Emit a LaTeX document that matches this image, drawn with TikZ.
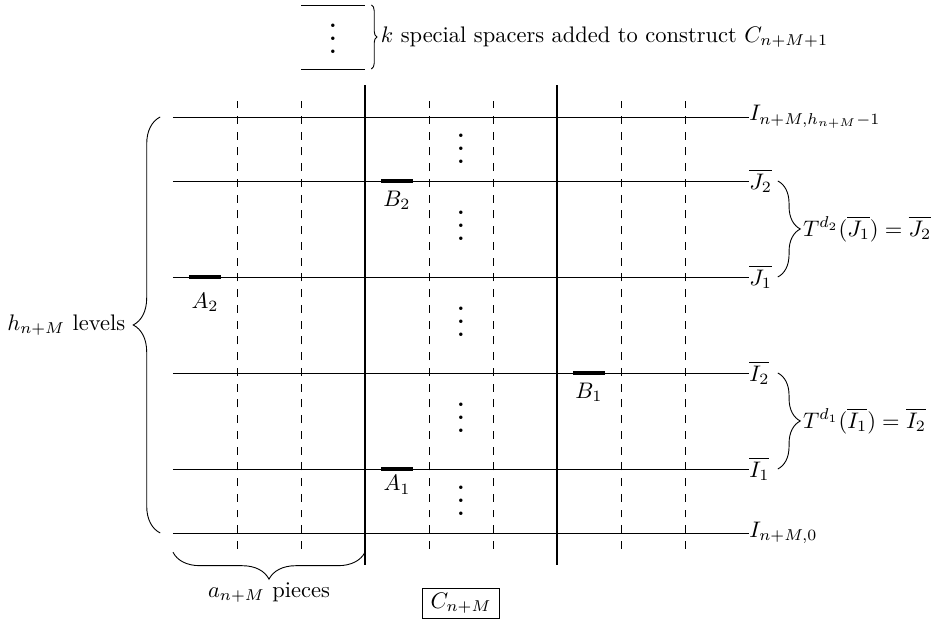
\documentclass[tikz,border=0pt]{standalone}
\usepackage{amsmath}
\usetikzlibrary{decorations.pathreplacing, positioning, calc}

\begin{document}
\begin{tikzpicture}[
    level/.style={thin},
    tower/.style={thick},
    piece/.style={thin, dash pattern=on 3.5pt off 3.5pt},
    interval/.style={ultra thick, line cap=butt},
    bigbrace/.style={decorate, decoration={brace, amplitude=12pt}},
    medbrace/.style={decorate, decoration={brace, amplitude=10pt}},
    smallbrace/.style={decorate, decoration={brace}},
    lvllabel/.style={anchor=west, inner sep=0pt},
    moredots/.style={scale=1.45, inner sep=0pt},
]
    \useasboundingbox (-2.703,-1.406) rectangle (11.875,8.328);

    % levels of the tower
    \foreach \y/\name in {0/lbot, 1/lione, 2.5/litwo, 4/ljone, 5.5/ljtwo, 6.5/ltop} {
        \coordinate (\name-w) at (0,\y);
        \coordinate (\name-e) at (9,\y);
        \draw[level] (\name-w) -- (\name-e);
    }

    % columns
    \foreach \x in {1,2,4,5,7,8}
        \draw[piece] (\x,-0.25) -- (\x,6.75);
    \foreach \x in {3,6}
        \draw[tower] (\x,-0.5) -- (\x,7);

    % spacers on top
    \coordinate (sp-a) at (2,8.25);
    \coordinate (sp-b) at (3,8.25);
    \coordinate (sp-c) at (2,7.25);
    \coordinate (sp-d) at (3,7.25);
    \draw[level] (sp-a) -- (sp-b);
    \draw[level] (sp-c) -- (sp-d);
    \node[moredots] (spdots) at (2.5,7.88) {$\vdots$};
    \draw[smallbrace] (3.1,8.25) -- (3.1,7.25)
        node[midway, right=4pt, inner sep=0pt] (spacers)
        {$k$ special spacers added to construct $C_{n+M+1}$};

    % dots between the levels
    \foreach \y [count=\i] in {6.15,4.95,3.46,1.95,0.65}
        \node[moredots] (dots\i) at (4.5,\y) {$\vdots$};

    % intervals
    \draw[interval] (0.25,4) -- (0.75,4);
    \node (A2) at (0.5,3.6) {$A_2$};
    \draw[interval] (3.25,5.5) -- (3.75,5.5);
    \node (B2) at (3.5,5.2) {$B_2$};
    \draw[interval] (3.25,1) -- (3.75,1);
    \node (A1) at (3.5,0.75) {$A_1$};
    \draw[interval] (6.25,2.5) -- (6.75,2.5);
    \node (B1) at (6.5,2.2) {$B_1$};

    % labels on the right
    \node[lvllabel] (Itop) at (ltop-e) {$I_{n+M,h_{n+M}-1}$};
    \node[lvllabel] (J2) at (ljtwo-e) {$\overline{J_2}$};
    \node[lvllabel] (J1) at (ljone-e) {$\overline{J_1}$};
    \node[lvllabel] (I2) at (litwo-e) {$\overline{I_2}$};
    \node[lvllabel] (I1) at (lione-e) {$\overline{I_1}$};
    \node[lvllabel] (Ibot) at (lbot-e) {$I_{n+M,0}$};

    \draw[medbrace] (9.45,5.5) -- (9.45,4)
        node[midway, right=10pt, inner sep=1pt] (Tj)
        {$T^{d_2}(\overline{J_1}) = \overline{J_2}$};
    \draw[medbrace] (9.45,2.5) -- (9.45,1)
        node[midway, right=10pt, inner sep=1pt] (Ti)
        {$T^{d_1}(\overline{I_1}) = \overline{I_2}$};

    % height and width of the tower
    \draw[bigbrace] (-0.2,0) -- (-0.2,6.5)
        node[midway, left=12pt] (height) {$h_{n+M}$ levels};
    \draw[bigbrace, decoration={mirror}] (0,-0.3) -- (3,-0.3)
        node[midway, below=10pt] (pieces) {$a_{n+M}$ pieces};

    \node[draw, inner xsep=3.5pt, inner ysep=2pt] (Cn) at (4.5,-1.1) {$C_{n+M}$};
\end{tikzpicture}
\end{document}
